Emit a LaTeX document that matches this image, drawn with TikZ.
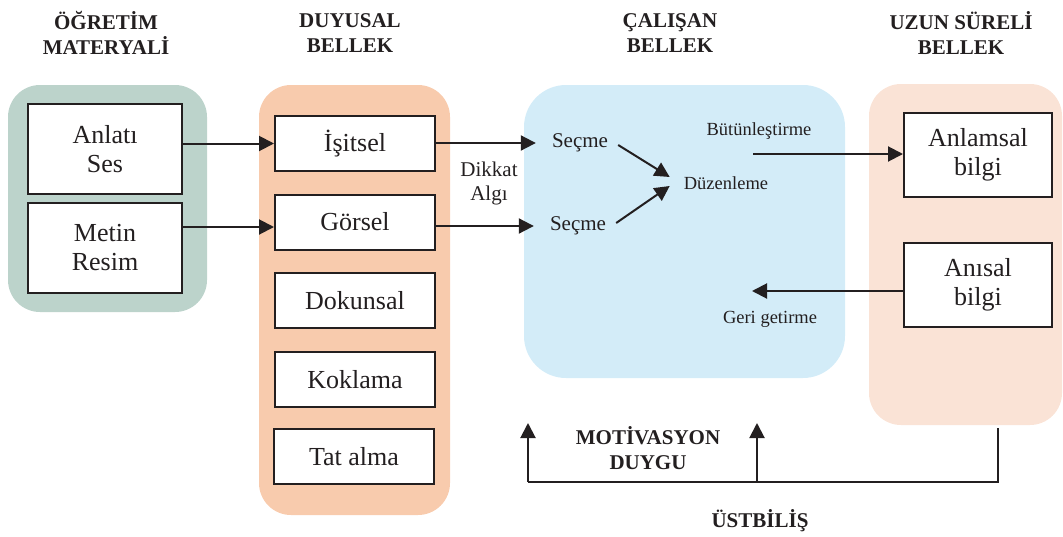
\documentclass[tikz,border=0pt]{standalone}
\usepackage{fontspec}
\setmainfont{Liberation Serif}
\usetikzlibrary{arrows.meta,calc}
\definecolor{ink}{HTML}{231F20}
\definecolor{sage}{HTML}{BCD3CB}
\definecolor{apricot}{HTML}{F8CBAD}
\definecolor{skyblue}{HTML}{D3ECF8}
\definecolor{peach}{HTML}{FAE3D6}
\tikzset{
  panel/.style={fill=#1, draw=none, rounded corners=32pt},
  itembox/.style={draw=ink, line width=2pt, fill=white, align=center,
    font=\fontsize{26}{29}\selectfont, text=ink, inner sep=0pt},
  heading/.style={align=center, font=\bfseries\fontsize{21}{24.5}\selectfont, text=ink},
  label/.style={align=center, font=\fontsize{18.5}{22}\selectfont, text=ink, inner sep=0pt},
  midlabel/.style={align=center, font=\fontsize{21}{24}\selectfont, text=ink, inner sep=0pt},
  flow/.style={draw=ink, line width=2pt, -{Triangle[length=15pt,width=15pt]}},
  plain/.style={draw=ink, line width=2pt}
}
\begin{document}
\begin{tikzpicture}[x=1pt,y=-1pt]
\useasboundingbox (0,0) rectangle (1063,536);

% background panels
\fill[panel=sage] (8,85) rectangle (207,312);
\fill[panel=apricot] (259,85) rectangle (450,515);
\fill[panel=skyblue, rounded corners=42pt] (524,85) rectangle (845,378);
\fill[panel=peach] (869,84) rectangle (1062,425);

% column headings
\node[heading] (h1) at (106,33) {ÖĞRETİM\\MATERYALİ};
\node[heading] (h2) at (350,33) {DUYUSAL\\BELLEK};
\node[heading] (h3) at (670,33) {ÇALIŞAN\\BELLEK};
\node[heading] (h4) at (961,33) {UZUN SÜRELİ\\BELLEK};

% instructional material
\node[itembox, minimum width=154pt, minimum height=90pt] (anlati) at (105,149) {Anlatı\\Ses};
\node[itembox, minimum width=154pt, minimum height=90pt] (metin) at (105,248) {Metin\\Resim};

% sensory memory
\node[itembox, minimum width=160pt, minimum height=55pt] (isitsel) at (355,143.5) {İşitsel};
\node[itembox, minimum width=160pt, minimum height=55pt] (gorsel) at (355,222) {Görsel};
\node[itembox, minimum width=160pt, minimum height=55pt] (dokunsal) at (355,300.5) {Dokunsal};
\node[itembox, minimum width=160pt, minimum height=55pt] (koklama) at (355,379.5) {Koklama};
\node[itembox, minimum width=160pt, minimum height=55pt] (tatalma) at (354,456.5) {Tat alma};

% long-term memory
\node[itembox, minimum width=148pt, minimum height=84pt] (anlamsal) at (978,155) {Anlamsal\\bilgi};
\node[itembox, minimum width=148pt, minimum height=84pt] (anisal) at (978,285) {Anısal\\bilgi};

% working memory
\node[midlabel] (secme1) at (580,143) {Seçme};
\node[midlabel] (secme2) at (578,226) {Seçme};
\node[midlabel] (dikkat) at (489,183) {Dikkat\\Algı};
\node[label] (duzen) at (726,183) {Düzenleme};
\node[label] (butun) at (759,131) {Bütünleştirme};
\node[label] (geri) at (770,319) {Geri getirme};
\node[heading, font=\bfseries\fontsize{21}{24.5}\selectfont] (motiv) at (648,448) {MOTİVASYON\\DUYGU};
\node[heading, font=\bfseries\fontsize{21}{24.5}\selectfont] (ustb) at (760,521) {ÜSTBİLİŞ};

% connectors
\draw[flow] (anlati.east |- isitsel.west) -- (isitsel.west);
\draw[flow] (metin.east |- 0,227) -- (gorsel.west |- 0,227);
\draw[flow, shorten >=16pt] (isitsel.east |- secme1.west) -- (secme1.west);
\draw[flow, shorten >=16pt] (gorsel.east |- secme2.west) -- (secme2.west);
\draw[flow] ($(secme1.east)+(10,2)$) -- ($(duzen.west)+(-14,-6)$);
\draw[flow] ($(secme2.east)+(10,-3)$) -- ($(duzen.west)+(-14,3)$);

\coordinate (bstart) at (753,154);
\draw[flow] (bstart) -- (anlamsal.west |- bstart);
\coordinate (gend) at (752,291);
\draw[flow] (anisal.west |- gend) -- (gend);

% metacognition feedback
\coordinate (rtop) at (998,428);
\coordinate (rbot) at (998,482);
\coordinate (lbot) at (528,482);
\coordinate (ltip) at (528,423);
\coordinate (mbot) at (757,482);
\coordinate (mtip) at (757,423);
\draw[plain] (rtop) -- (rbot) -- (lbot);
\draw[flow] (lbot) -- (ltip);
\draw[flow] (mbot) -- (mtip);
\end{tikzpicture}
\end{document}
